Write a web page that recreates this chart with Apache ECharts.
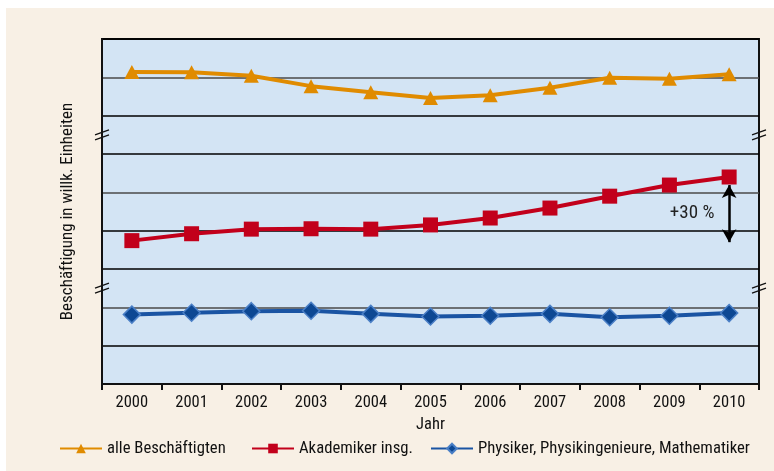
<!DOCTYPE html>
<html>
<head>
<meta charset="utf-8">
<script src="https://cdn.jsdelivr.net/npm/echarts@6/dist/echarts.min.js"></script>
<style>
html,body{margin:0;padding:0;background:#ffffff;}
#c{position:absolute;left:6px;top:8px;width:768px;height:463px;background:#f8f0e5;}
</style>
</head>
<body>
<div id="c"></div>
<script>
// ---- data (arbitrary units; one gridline = 1 unit) ----
var years = ['2000','2001','2002','2003','2004','2005','2006','2007','2008','2009','2010'];
var alleBeschaeftigten = [8.14, 8.13, 8.04, 7.77, 7.61, 7.46, 7.53, 7.73, 7.99, 7.96, 8.08];
var akademiker = [3.74, 3.92, 4.04, 4.05, 4.04, 4.15, 4.33, 4.59, 4.90, 5.19, 5.40];
var physiker = [1.81, 1.86, 1.90, 1.91, 1.83, 1.76, 1.78, 1.83, 1.74, 1.78, 1.85];
var seriesNames = ['alle Beschäftigten', 'Akademiker insg.', 'Physiker, Physikingenieure, Mathematiker'];
var axisBreaks = [6.5, 2.5];
var arrowRange = [5.19, 3.70];
var arrowLabel = '+30 %';
var yAxisName = 'Beschäftigung in willk. Einheiten';
var xAxisName = 'Jahr';

var FONT = "'Roboto Condensed','Liberation Sans Narrow',sans-serif";
var chart = echarts.init(document.getElementById('c'));

var gridColors = ['#000','#000','#4a4a4a','#000','#000','#4a4a4a','#000','#000','#4a4a4a','#000'];

var legendBase = {
  itemWidth: 42, itemHeight: 12, itemGap: 7, top: 427,
  textStyle: {fontFamily: FONT, fontSize: 16.7, color: '#111'}
};

chart.setOption({
  animation: false,
  grid: {left: 96, right: 15, top: 31, bottom: 87, show: true,
         backgroundColor: '#d3e4f4', borderColor: '#111', borderWidth: 2},
  legend: [
    Object.assign({data: [seriesNames[0]], left: 48}, legendBase),
    Object.assign({data: [seriesNames[1]], left: 240}, legendBase),
    Object.assign({data: [seriesNames[2]], left: 419}, legendBase)
  ],
  xAxis: {
    type: 'category', data: years, boundaryGap: true,
    name: xAxisName, nameLocation: 'middle', nameGap: 32,
    nameTextStyle: {fontFamily: FONT, fontSize: 16.5, color: '#111'},
    axisLine: {lineStyle: {color: '#111', width: 2}},
    axisTick: {show: true, length: 6, lineStyle: {color: '#111', width: 2}},
    axisLabel: {fontFamily: FONT, fontSize: 16.5, color: '#111', margin: 10},
    splitLine: {show: false}
  },
  yAxis: {
    type: 'value', min: 0, max: 9, interval: 1,
    name: yAxisName, nameLocation: 'middle', nameGap: 26,
    nameTextStyle: {fontFamily: FONT, fontSize: 17, color: '#111'},
    axisLine: {show: true, lineStyle: {color: '#111', width: 2}},
    axisTick: {show: false},
    axisLabel: {show: false},
    splitLine: {show: true, lineStyle: {color: gridColors, width: 1.6}}
  },
  series: [
    {
      name: seriesNames[0], type: 'line', data: alleBeschaeftigten,
      symbol: 'triangle', symbolSize: [15, 14],
      lineStyle: {color: '#e08b00', width: 4},
      itemStyle: {color: '#e08b00'}, z: 3
    },
    {
      name: seriesNames[1], type: 'line', data: akademiker,
      symbol: 'rect', symbolSize: 15,
      lineStyle: {color: '#c2001b', width: 4},
      itemStyle: {color: '#c2001b'}, z: 3,
      markLine: {
        silent: true, symbol: ['arrow', 'arrow'], symbolSize: [11, 13],
        label: {show: false},
        lineStyle: {color: '#000', width: 2.5, type: 'solid'},
        data: [[{coord: [10, arrowRange[0]]}, {coord: [10, arrowRange[1]]}]]
      },
      markPoint: {
        silent: true, symbol: 'circle', symbolSize: 0,
        label: {show: true, formatter: arrowLabel, fontFamily: FONT, fontSize: 19,
                color: '#222', offset: [-37, 0], position: 'inside'},
        data: [{coord: [10, (arrowRange[0] + arrowRange[1]) / 2]}]
      }
    },
    {
      name: seriesNames[2], type: 'line', data: physiker,
      symbol: 'diamond', symbolSize: 17,
      lineStyle: {color: '#1a54a3', width: 4},
      itemStyle: {color: '#0d4893', borderColor: '#4a7fc6', borderWidth: 1.5}, z: 3
    }
  ]
});

// axis break marks on both vertical frame lines
function drawBreaks() {
  var els = [];
  var rect = chart.getModel().getComponent('grid', 0).coordinateSystem.getRect();
  axisBreaks.forEach(function (v) {
    var y = chart.convertToPixel({yAxisIndex: 0}, v);
    [rect.x, rect.x + rect.width].forEach(function (x) {
      [-2.5, 2.5].forEach(function (d) {
        els.push({type: 'line', silent: true, z: 100,
          shape: {x1: x - 7, y1: y + d + 2.5, x2: x + 7, y2: y + d - 2.5},
          style: {stroke: '#111', lineWidth: 1.3}});
      });
    });
  });
  chart.setOption({graphic: els});
}
drawBreaks();
</script>
</body>
</html>
